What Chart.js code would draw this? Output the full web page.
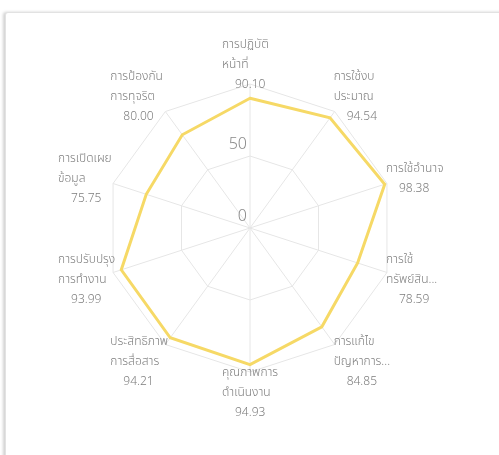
<!DOCTYPE html>
<html>
<head>
<meta charset="utf-8">
<script src="https://cdn.jsdelivr.net/npm/chart.js@4.4.1/dist/chart.umd.min.js"></script>
<style>
  html, body { margin: 0; padding: 0; background: #fff; }
  body { width: 499px; height: 455px; position: relative; overflow: hidden; }
  .card {
    position: absolute; left: 5px; top: 12px; width: 520px; height: 480px;
    border: 1px solid #e2e2e2; border-radius: 3px;
    box-shadow: -2px 0 3px rgba(0,0,0,0.18);
    background: #fff;
  }
  #chart { position: absolute; left: 0; top: 0; }
</style>
</head>
<body>
<div class="card"></div>
<canvas id="chart" width="499" height="455"></canvas>
<script>
// axis names (wrapped as in the picture) and scores
const labelLines = [
  ['การปฏิบัติ', 'หน้าที่'],
  ['การใช้งบ', 'ประมาณ'],
  ['การใช้อำนาจ'],
  ['การใช้', 'ทรัพย์สิน...'],
  ['การแก้ไข', 'ปัญหาการ...'],
  ['คุณภาพการ', 'ดำเนินงาน'],
  ['ประสิทธิภาพ', 'การสื่อสาร'],
  ['การปรับปรุง', 'การทำงาน'],
  ['การเปิดเผย', 'ข้อมูล'],
  ['การป้องกัน', 'การทุจริต']
]
const scores = [90.10, 94.54, 98.38, 78.59, 84.85, 94.93, 94.21, 93.99, 75.75, 80.00]
const tickValues = [0, 50]

const thaiFont = '"Noto Sans Thai", "Noto Sans", sans-serif'
const textGray = '#7d7d7d'

// labels: fixed-width left aligned blocks, pushed sideways from the outer ring
const labelPlugin = {
  id: 'labels',
  afterDraw(chart) {
    const scale = chart.scales.r
    const ctx = chart.ctx
    const outer = scale.getDistanceFromCenterForValue(scale.max)
    ctx.save()

    ctx.font = '300 16px ' + thaiFont
    ctx.fillStyle = '#8a8a8a'
    ctx.textAlign = 'right'
    ctx.textBaseline = 'bottom'
    tickValues.forEach((v) => {
      const d = scale.getDistanceFromCenterForValue(v)
      ctx.fillText(String(v), scale.xCenter - 3, scale.yCenter - d - 2)
    })

    ctx.font = '300 12px ' + thaiFont
    ctx.fillStyle = textGray
    ctx.textAlign = 'left'
    ctx.textBaseline = 'middle'
    const lh = 20
    const blockW = 56
    labelLines.forEach((names, i) => {
      const lines = names.concat([scores[i].toFixed(2)])
      const ring = scale.getPointPosition(i, outer)
      const out = scale.getPointPosition(i, outer + 20)
      const dx = ring.x - scale.xCenter
      const side = Math.abs(dx) < 1 ? 0 : Math.sign(dx)
      const cx = ring.x + side * 27
      const left = cx - blockW / 2
      const top = out.y + 2 - (lines.length * lh) / 2
      lines.forEach((t, k) => {
        const x = k === lines.length - 1 ? left + 13 : left
        ctx.fillText(t, x, top + lh / 2 + k * lh)
      })
    })
    ctx.restore()
  }
}

new Chart(document.getElementById('chart'), {
  type: 'radar',
  data: {
    labels: labelLines.map((l) => l.join(' ')),
    datasets: [{
      data: scores,
      borderColor: '#f6d966',
      backgroundColor: 'rgba(0,0,0,0)',
      borderWidth: 3,
      pointRadius: 0,
      pointHoverRadius: 0,
      fill: false
    }]
  },
  options: {
    responsive: false,
    animation: false,
    layout: { padding: { left: 106, top: 84, right: 105, bottom: 83 } },
    plugins: { legend: { display: false }, tooltip: { enabled: false } },
    scales: {
      r: {
        min: 0,
        max: 100,
        ticks: { display: false, stepSize: 50 },
        grid: { color: '#e6e6e6', lineWidth: 1 },
        angleLines: { color: '#e6e6e6', lineWidth: 1 },
        pointLabels: { display: false }
      }
    }
  },
  plugins: [labelPlugin]
})
</script>
</body>
</html>
